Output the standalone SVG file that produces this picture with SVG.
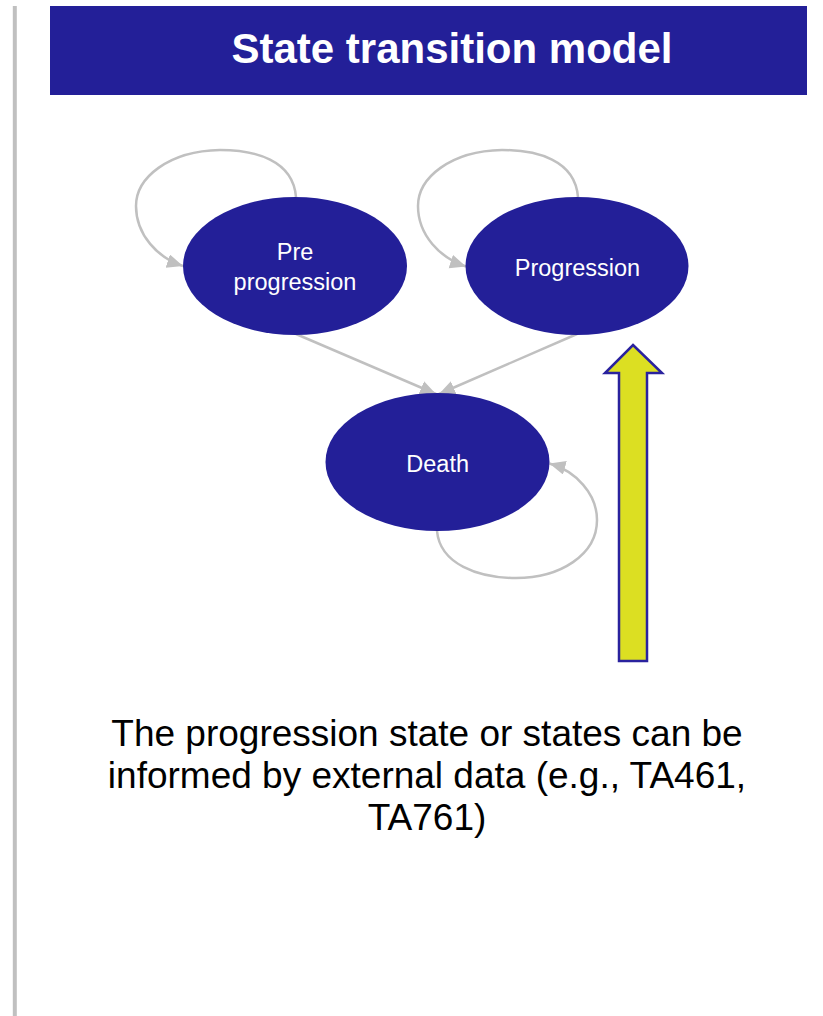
<svg xmlns="http://www.w3.org/2000/svg" width="823" height="1016" viewBox="0 0 823 1016">
<style>
.node ellipse{fill:#231f98}
.node text{fill:#ffffff;font-family:"Liberation Sans",Arial,sans-serif;font-size:23.5px;text-anchor:middle}
.conn path{fill:none;stroke:#c0c0c0;stroke-width:2.5}
.title{fill:#ffffff;font-family:"Liberation Sans",Arial,sans-serif;font-size:42px;font-weight:bold;text-anchor:middle}
.caption{fill:#000000;font-family:"Liberation Sans",Arial,sans-serif;font-size:37px;text-anchor:middle}
</style>
<defs>
<marker id="ah" markerUnits="userSpaceOnUse" markerWidth="17" markerHeight="15" refX="16" refY="7" orient="auto">
<path d="M0,0 L16,7 L0,14 z" fill="#c0c0c0"/>
</marker>
</defs>
<rect x="0" y="0" width="823" height="1016" fill="#ffffff"/>
<rect x="12.8" y="6" width="4" height="1010" fill="#c0c0c0"/>
<g id="header">
<rect x="50" y="6" width="757" height="89" fill="#231f98"/>
<text class="title" x="452" y="63.3">State transition model</text>
</g>
<g id="connectors" class="conn">
<path d="M296,197 C293,160 255,150 220,150 C168,151 136,178 136,206 C136,235 158,258 183,266" marker-end="url(#ah)"/>
<path d="M578,197 C575,160 537,150 502,150 C450,151 418,178 418,206 C418,235 440,258 466,266.5" marker-end="url(#ah)"/>
<path d="M296,334 L436,394" marker-end="url(#ah)"/>
<path d="M577,334 L439,394" marker-end="url(#ah)"/>
<path d="M437,531 C440,564 478,578 516,578 C560,578 597,555 597,520 C597,494 576,471 549.5,463.5" marker-end="url(#ah)"/>
</g>
<g id="node-pre" class="node">
<ellipse cx="295" cy="266" rx="112" ry="69"/>
<text x="295" y="260">Pre</text>
<text x="295" y="290">progression</text>
</g>
<g id="node-progression" class="node">
<ellipse cx="577" cy="266" rx="111.5" ry="69"/>
<text x="577.5" y="276">Progression</text>
</g>
<g id="node-death" class="node">
<ellipse cx="437.5" cy="462" rx="112" ry="69"/>
<text x="437.7" y="472">Death</text>
</g>
<g id="yellow-arrow">
<polygon points="633,345 662,373 647,373 647,661 619,661 619,373 605,373" fill="#dcdf22" stroke="#2a229e" stroke-width="2.5" stroke-linejoin="miter"/>
</g>
<g id="caption">
<text class="caption" x="427" y="745.5">The progression state or states can be</text>
<text class="caption" x="427" y="787.5">informed by external data (e.g., TA461,</text>
<text class="caption" x="427" y="829.5">TA761)</text>
</g>
</svg>
